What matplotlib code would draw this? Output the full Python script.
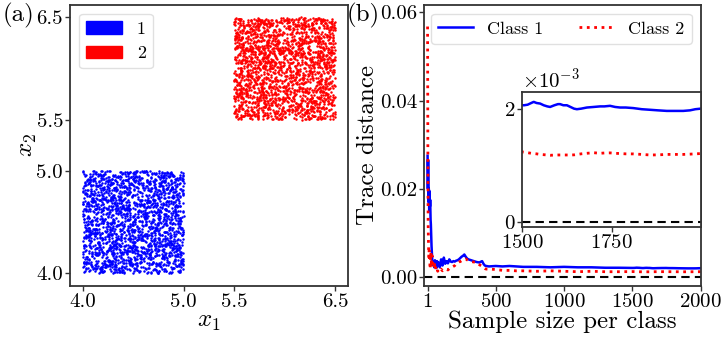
import numpy as np
import matplotlib
matplotlib.use("Agg")
import matplotlib.pyplot as plt
from matplotlib.patches import Patch

plt.rcParams['font.family'] = 'serif'
plt.rcParams['font.serif'] = ['cmr10']
plt.rcParams['mathtext.fontset'] = 'cm'
plt.rcParams['axes.formatter.use_mathtext'] = True
plt.rcParams['axes.unicode_minus'] = True

# ---------------- data ----------------
# panel (a): two uniformly sampled square classes
class_labels = ["1", "2"]
class_colors = ["blue", "red"]
square1_x = (4.0, 5.0)
square1_y = (4.0, 5.0)
square2_x = (5.5, 6.5)
square2_y = (5.5, 6.5)
n_points = 2000
a_ticks = [4.0, 5.0, 5.5, 6.5]

rng = np.random.default_rng(7)
pts1_x = rng.uniform(*square1_x, n_points)
pts1_y = rng.uniform(*square1_y, n_points)
pts2_x = rng.uniform(*square2_x, n_points)
pts2_y = rng.uniform(*square2_y, n_points)

# panel (b): trace distance vs sample size
n_early = [1, 3, 5, 8, 10,
           13, 15, 18, 20, 23,
           25, 28, 30, 35, 40,
           45, 50, 55, 60, 65,
           70, 75, 80, 90, 100,
           110, 120, 130, 140, 150,
           160, 170, 180, 190, 200,
           210, 220, 230, 240, 250,
           260, 270, 280, 290, 300,
           320, 340, 360, 380, 400,
           410, 420, 430, 450, 500,
           550, 600, 650, 700, 800,
           900, 1000, 1100, 1200, 1300,
           1400]
class1_early = [0.0275, 0.0200, 0.0265, 0.0170, 0.0200,
                0.0150, 0.0195, 0.0160, 0.0175, 0.0130,
                0.0120, 0.0090, 0.0070, 0.0040, 0.0028,
                0.0035, 0.0022, 0.0038, 0.0030, 0.0020,
                0.0036, 0.0025, 0.0033, 0.0022, 0.0040,
                0.0026, 0.0044, 0.0030, 0.0036, 0.0031,
                0.0040, 0.0035, 0.0034, 0.0036, 0.0035,
                0.0037, 0.0038, 0.0040, 0.0043, 0.0046,
                0.0048, 0.0051, 0.0046, 0.0042, 0.0040,
                0.0038, 0.0036, 0.0034, 0.0033, 0.0036,
                0.0030, 0.0026, 0.0025, 0.0024, 0.0025,
                0.0024, 0.0025, 0.0024, 0.0023, 0.0023,
                0.0022, 0.0023, 0.0022, 0.0022, 0.0021,
                0.0021]
class2_early = [0.0568, 0.0300, 0.0120, 0.0070, 0.0045,
                0.0060, 0.0052, 0.0030, 0.0018, 0.0045,
                0.0055, 0.0040, 0.0025, 0.0048, 0.0030,
                0.0020, 0.0035, 0.0017, 0.0022, 0.0014,
                0.0018, 0.0013, 0.0016, 0.0013, 0.0018,
                0.0014, 0.0016, 0.0015, 0.0017, 0.0016,
                0.0019, 0.0020, 0.0022, 0.0024, 0.0026,
                0.0030, 0.0032, 0.0034, 0.0035, 0.0037,
                0.0039, 0.0040, 0.0041, 0.0039, 0.0037,
                0.0035, 0.0034, 0.0033, 0.0028, 0.0024,
                0.0021, 0.0019, 0.0018, 0.0018, 0.0017,
                0.0015, 0.0015, 0.0014, 0.0014, 0.0013,
                0.0014, 0.0013, 0.0012, 0.0013, 0.0012,
                0.0012]
n_late = [1500, 1505, 1515, 1525, 1532,
          1540, 1550, 1560, 1570, 1578,
          1590, 1600, 1606, 1615, 1625,
          1635, 1645, 1653, 1665, 1681,
          1700, 1718, 1730, 1746, 1760,
          1774, 1790, 1811, 1835, 1858,
          1880, 1905, 1930, 1951, 1970,
          1985, 2000]
class1_late = [0.00206, 0.00206, 0.00207, 0.00210, 0.00212,
               0.00210, 0.00209, 0.00206, 0.00204, 0.00203,
               0.00206, 0.00208, 0.00208, 0.00206, 0.00206,
               0.00203, 0.00200, 0.00199, 0.00200, 0.00202,
               0.00203, 0.00204, 0.00204, 0.00205, 0.00203,
               0.00202, 0.00202, 0.00201, 0.00199, 0.00198,
               0.00197, 0.00196, 0.00196, 0.00196, 0.00197,
               0.00199, 0.00200]
class2_late = [0.001234, 0.00123, 0.00122, 0.00121, 0.001205,
               0.00120, 0.00119, 0.001185, 0.00118, 0.001175,
               0.001178, 0.00118, 0.00118, 0.00118, 0.00118,
               0.00118, 0.001182, 0.00119, 0.00120, 0.00121,
               0.00122, 0.00121, 0.001215, 0.001217, 0.00121,
               0.001205, 0.00120, 0.001199, 0.00119, 0.00118,
               0.001182, 0.00119, 0.00119, 0.00119, 0.001195,
               0.00120, 0.001205]
series_labels = ["Class 1", "Class 2"]
b_xticks = [1, 500, 1000, 1500, 2000]
b_yticks = [0.00, 0.02, 0.04, 0.06]
inset_xticks = [1500, 1750]
inset_yticks = [0.0, 0.002]

n_all = np.array(n_early + n_late)
class1_all = np.array(class1_early + class1_late)
class2_all = np.array(class2_early + class2_late)

# ---------------- figure ----------------
W, H = 726, 337
fig = plt.figure(figsize=(W / 100, H / 100), dpi=100)

def px_axes(l, t, r, b):
    return fig.add_axes([l / W, 1 - b / H, (r - l) / W, (b - t) / H])

spine_c = '0.2'
tick_fs = 15
label_fs = 18

def style(ax):
    for s in ax.spines.values():
        s.set_color(spine_c)
        s.set_linewidth(1.3)
    ax.tick_params(direction='out', length=3.5, width=1.0, color=spine_c,
                   labelsize=tick_fs, pad=1.5)

# panel (a)
axa = px_axes(70, 4.7, 347.7, 285.7)
axa.scatter(pts1_x, pts1_y, s=3.2, c=class_colors[0], linewidths=0)
axa.scatter(pts2_x, pts2_y, s=3.2, c=class_colors[1], linewidths=0)
axa.set_xticks(a_ticks)
axa.set_yticks(a_ticks)
axa.set_xticklabels([f"{t:.1f}" for t in a_ticks])
axa.set_yticklabels([f"{t:.1f}" for t in a_ticks])
axa.set_xlabel(r'$x_1$', fontsize=label_fs, labelpad=0)
axa.set_ylabel(r'$x_2$', fontsize=label_fs, labelpad=-2)
style(axa)
handles_a = [Patch(facecolor=c, edgecolor=c) for c in class_colors]
axa.legend(handles_a, class_labels, loc='upper left', fontsize=13,
           framealpha=0.8, edgecolor='0.85', fancybox=True)

# panel (b)
axb = px_axes(424.3, 4.7, 700.7, 285.7)
axb.plot(n_all, class1_all, color='blue', lw=1.8, label=series_labels[0])
axb.plot(n_all, class2_all, color='red', lw=2.0, ls=':', label=series_labels[1])
axb.axhline(0, color='black', lw=1.5, ls='--', dashes=(4, 2.5))
axb.set_xlim(-23, 2000)
axb.set_ylim(-0.00197, 0.06175)
axb.set_xticks(b_xticks)
axb.set_yticks(b_yticks)
axb.set_yticklabels([f"{t:.2f}" for t in b_yticks])
axb.set_xlabel('Sample size per class', fontsize=label_fs, labelpad=0)
axb.set_ylabel('Trace distance', fontsize=label_fs, labelpad=1)
style(axb)
axb.legend(loc='upper right', ncol=2, fontsize=13, handlelength=1.9,
           framealpha=0.8, edgecolor='0.85', fancybox=True)

# inset
axi = px_axes(522.3, 91.7, 700.7, 227.3)
axi.plot(n_all, class1_all, color='blue', lw=1.8)
axi.plot(n_all, class2_all, color='red', lw=2.0, ls=':')
axi.axhline(0, color='black', lw=1.5, ls='--', dashes=(4, 2.5))
axi.set_xlim(1500, 2000)
axi.set_ylim(-0.0001, 0.0023)
axi.set_xticks(inset_xticks)
axi.set_yticks(inset_yticks)
axi.ticklabel_format(axis='y', style='sci', scilimits=(0, 0))
style(axi)
axi.yaxis.get_offset_text().set_fontsize(tick_fs)

fig.text(3 / W, 1 - 3 / H, '(a)', fontsize=18, va='top', ha='left')
fig.text(347 / W, 1 - 3 / H, '(b)', fontsize=18, va='top', ha='left')

fig.savefig('out.png', dpi=100)
